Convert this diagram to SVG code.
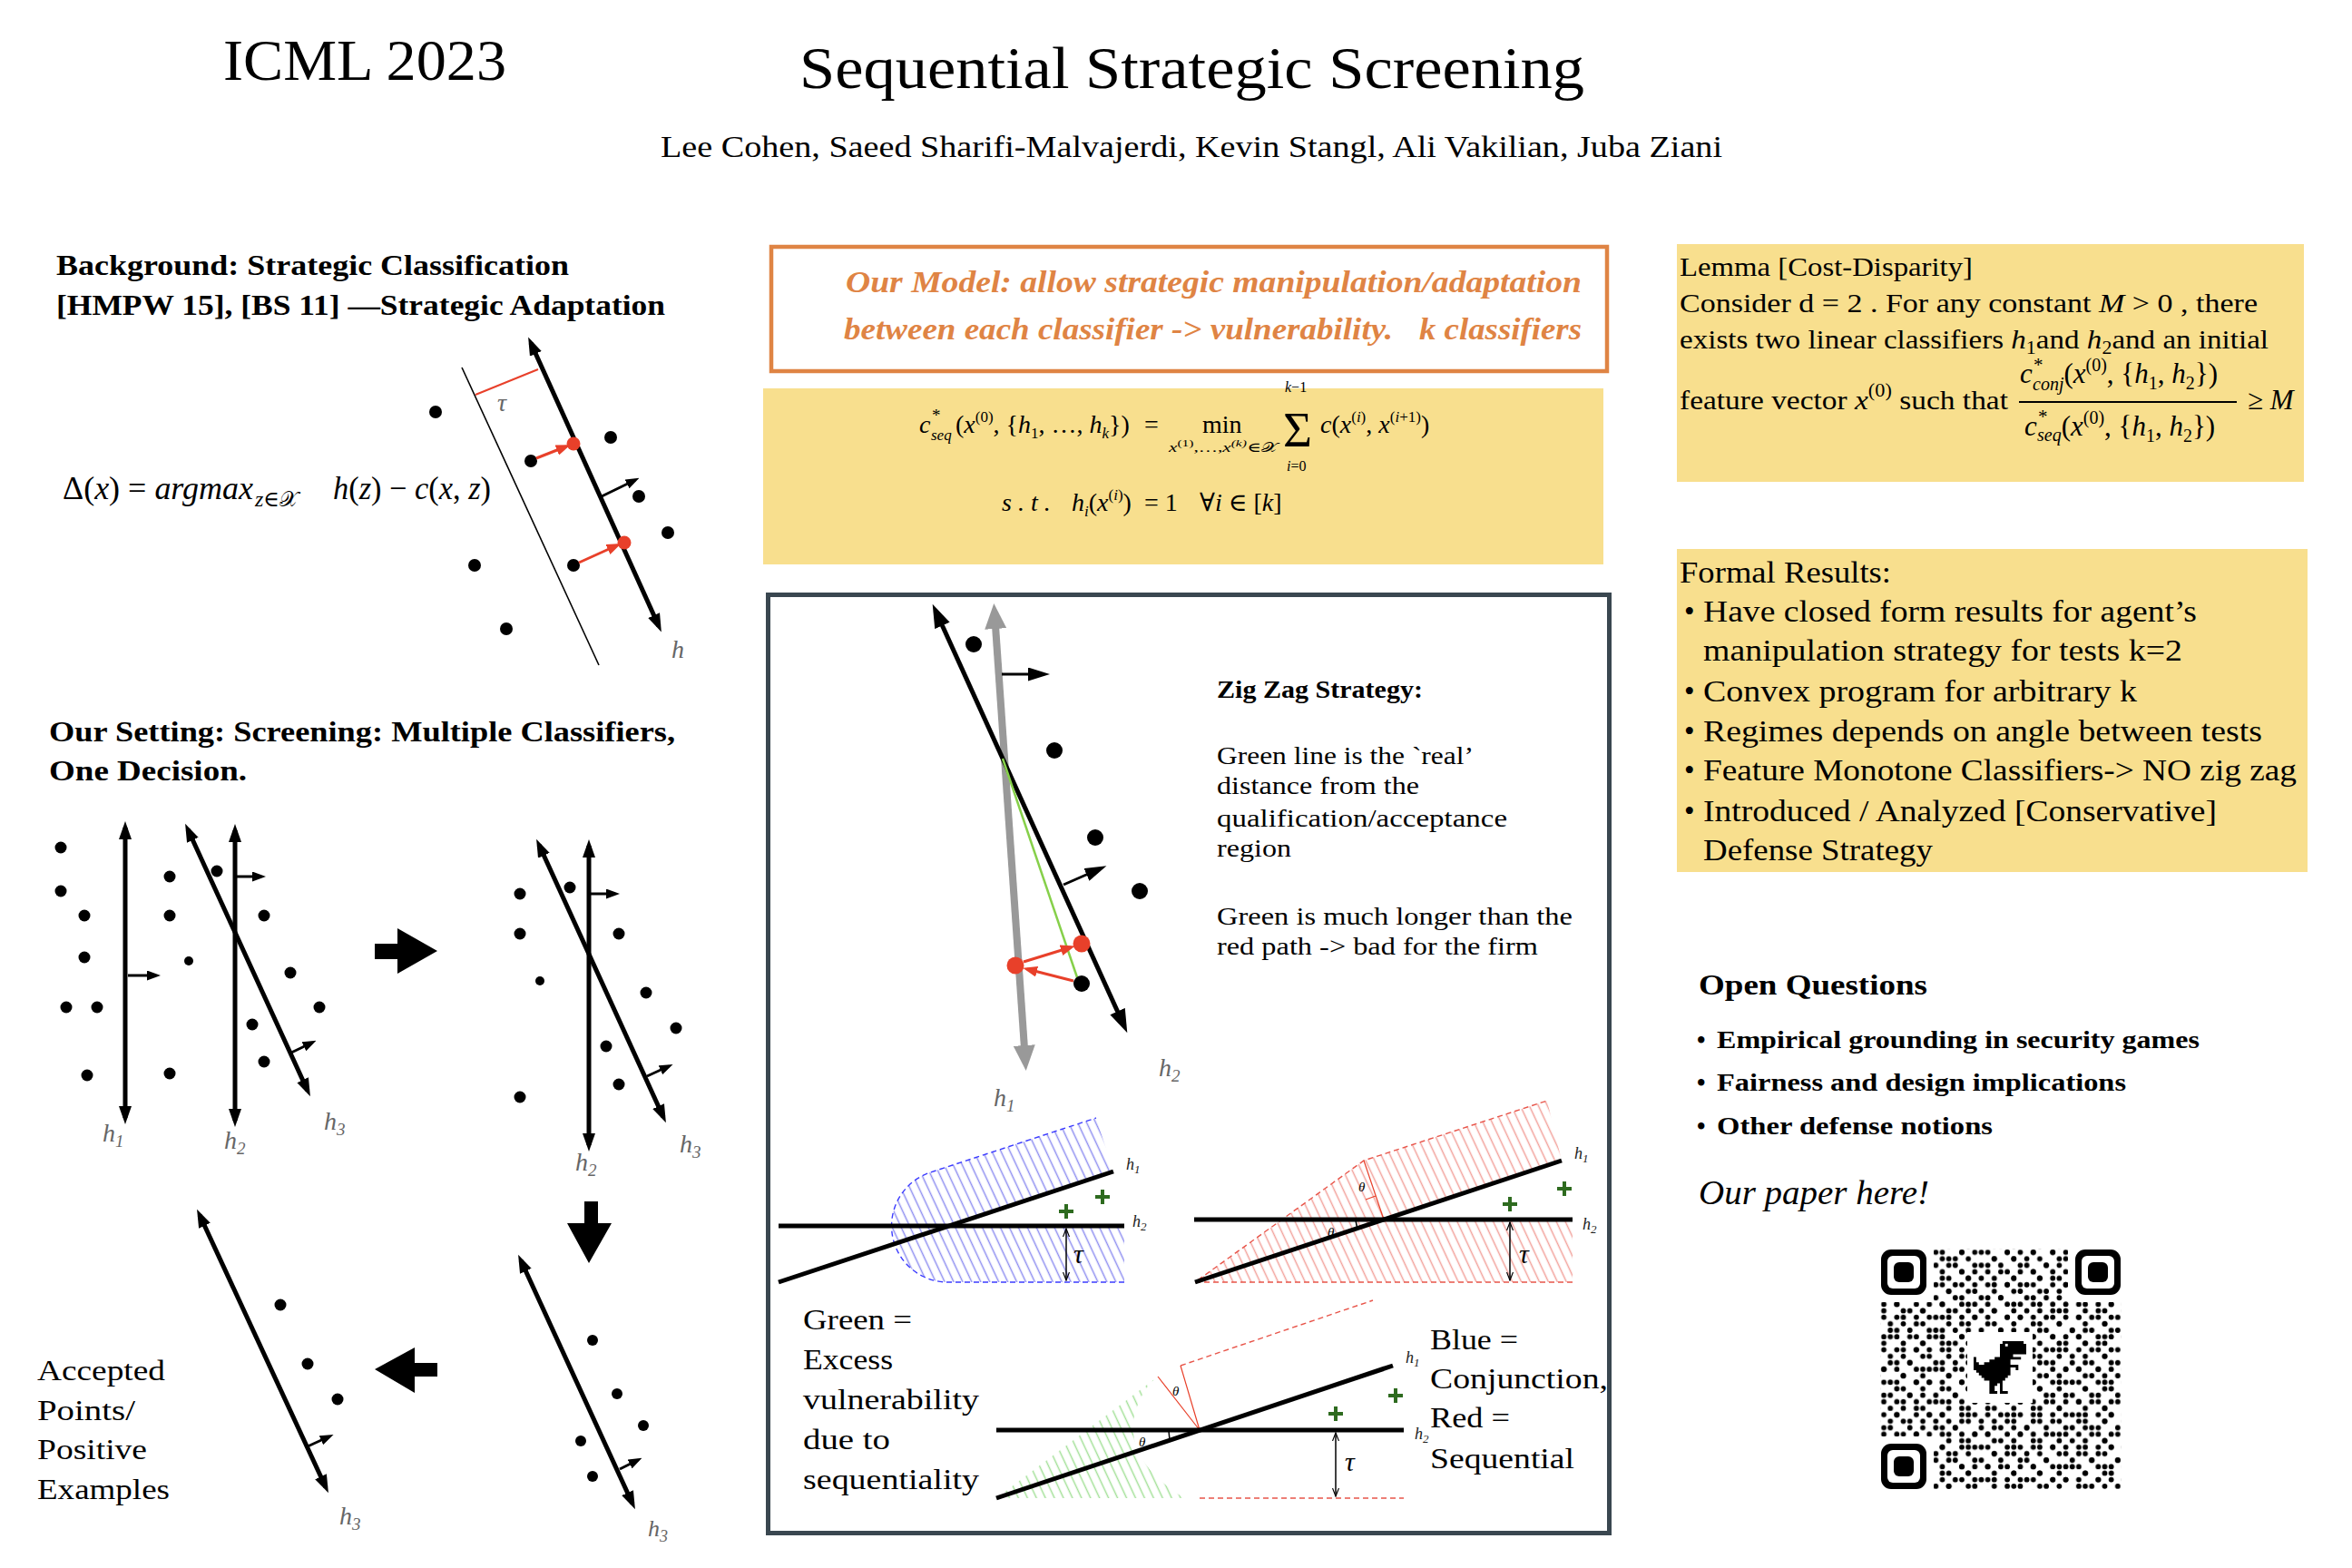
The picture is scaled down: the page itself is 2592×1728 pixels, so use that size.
<svg xmlns="http://www.w3.org/2000/svg" width="2592" height="1728" viewBox="0 0 2592 1728">
<style>
text{font-family:'Liberation Serif','DejaVu Serif',serif;fill:#000}
.b{font-weight:bold}
.i{font-style:italic}
.g{fill:#666;font-style:italic}
.o{fill:#DF8444;font-weight:bold;font-style:italic}
.sm{fill:#222;font-style:italic}
.h{stroke:#000;stroke-width:5;fill:none}
.nv{stroke:#000;stroke-width:3;fill:none}
.thin{stroke:#000;stroke-width:1.6;fill:none}
.rl{stroke:#E8402A;stroke-width:3;fill:none}
.rt{stroke:#E8402A;stroke-width:1.2;fill:none}
.bd{stroke:#3b3bff;stroke-width:1.4;stroke-dasharray:6 4;fill:none}
.rd{stroke:#E8554A;stroke-width:1.4;stroke-dasharray:6 4;fill:none}
.tau{stroke:#000;stroke-width:1.5;fill:none}
.yb{fill:#F8DF8E}
</style>
<defs>
<marker id="ah" markerUnits="userSpaceOnUse" markerWidth="20" markerHeight="14" refX="13" refY="7" orient="auto-start-reverse"><path d="M0,0L20,7L0,14Z" fill="#000"/></marker>
<marker id="ahz" markerUnits="userSpaceOnUse" markerWidth="26" markerHeight="18" refX="18" refY="9" orient="auto-start-reverse"><path d="M0,0L26,9L0,18Z" fill="#000"/></marker>
<marker id="ahg" markerUnits="userSpaceOnUse" markerWidth="28" markerHeight="24" refX="18" refY="12" orient="auto-start-reverse"><path d="M0,0L28,12L0,24Z" fill="#999"/></marker>
<marker id="ahn" markerUnits="userSpaceOnUse" markerWidth="15" markerHeight="11" refX="10" refY="5.5" orient="auto"><path d="M0,0L15,5.5L0,11Z" fill="#000"/></marker>
<marker id="ahn2" markerUnits="userSpaceOnUse" markerWidth="24" markerHeight="15" refX="17" refY="7.5" orient="auto"><path d="M0,0L24,7.5L0,15Z" fill="#000"/></marker>
<marker id="ahr" markerUnits="userSpaceOnUse" markerWidth="16" markerHeight="12" refX="11" refY="6" orient="auto"><path d="M0,0L16,6L0,12Z" fill="#E8402A"/></marker>
<marker id="aht" markerUnits="userSpaceOnUse" markerWidth="10" markerHeight="8" refX="9" refY="4" orient="auto-start-reverse"><path d="M0,0.5L9,4L0,7.5" fill="none" stroke="#000" stroke-width="1.2"/></marker>
<path id="plus" d="M-8,0H8M0,-8V8" stroke="#2E6B1F" stroke-width="4" fill="none"/>
<pattern id="hb" patternUnits="userSpaceOnUse" width="9" height="9" patternTransform="rotate(-25)"><path d="M4.5,-1V10" stroke="#8f8ff0" stroke-width="1.5"/></pattern>
<pattern id="hr" patternUnits="userSpaceOnUse" width="9" height="9" patternTransform="rotate(-25)"><path d="M4.5,-1V10" stroke="#f2a29b" stroke-width="1.5"/></pattern>
<pattern id="hg" patternUnits="userSpaceOnUse" width="9" height="9" patternTransform="rotate(-25)"><path d="M4.5,-1V10" stroke="#a3e098" stroke-width="1.5"/></pattern>
<pattern id="qa" patternUnits="userSpaceOnUse" x="2072.5" y="1376.5" width="50.12" height="35.8"><path d="M3.58 3.58h.01M17.9 3.58h.01M39.38 3.58h.01M25.06 10.74h.01M46.54 10.74h.01M10.74 17.9h.01M32.22 17.9h.01M3.58 25.06h.01M17.9 25.06h.01M39.38 25.06h.01M25.06 32.22h.01M46.54 32.22h.01" stroke="#000" stroke-width="5.8" stroke-linecap="round"/></pattern>
<pattern id="qb" patternUnits="userSpaceOnUse" x="2072.5" y="1376.5" width="78.76" height="93.08"><path d="M10.74 3.58h.01M32.22 3.58h.01M60.86 3.58h.01M3.58 10.74h.01M46.54 10.74h.01M68.02 10.74h.01M25.06 17.9h.01M39.38 17.9h.01M75.18 17.9h.01M10.74 25.06h.01M53.7 25.06h.01M17.9 32.22h.01M32.22 32.22h.01M68.02 32.22h.01M3.58 39.38h.01M46.54 39.38h.01M60.86 39.38h.01M25.06 46.54h.01M75.18 46.54h.01M10.74 53.7h.01M39.38 53.7h.01M53.7 53.7h.01M17.9 60.86h.01M68.02 60.86h.01M3.58 68.02h.01M32.22 68.02h.01M46.54 68.02h.01M25.06 75.18h.01M60.86 75.18h.01M75.18 75.18h.01M10.74 82.34h.01M39.38 82.34h.01M17.9 89.5h.01M53.7 89.5h.01M68.02 89.5h.01" stroke="#000" stroke-width="5.8" stroke-linecap="round"/></pattern>
<g id="finder"><rect width="50" height="50" rx="11" fill="#000"/><rect x="7" y="7" width="36" height="36" rx="6" fill="#fff"/><rect x="14" y="14" width="22" height="22" rx="6" fill="#000"/></g>
</defs>
<rect width="2592" height="1728" fill="#fff"/>

<g id="header">
<text x="246" y="88" font-size="64" textLength="312" lengthAdjust="spacingAndGlyphs">ICML 2023</text>
<text x="881" y="97" font-size="66" textLength="865" lengthAdjust="spacingAndGlyphs">Sequential Strategic Screening</text>
<text x="728" y="173" font-size="34" textLength="1170" lengthAdjust="spacingAndGlyphs">Lee Cohen, Saeed Sharifi-Malvajerdi,  Kevin Stangl, Ali Vakilian, Juba Ziani</text>
</g>

<g id="background">
<text x="62" y="303" font-size="32" class="b" textLength="565" lengthAdjust="spacingAndGlyphs">Background: Strategic Classification</text>
<text x="62" y="347" font-size="32" class="b" textLength="671" lengthAdjust="spacingAndGlyphs">[HMPW 15], [BS 11] —Strategic Adaptation</text>
<text x="69" y="550" font-size="36" textLength="210" lengthAdjust="spacingAndGlyphs">Δ(<tspan class="i">x</tspan>) = <tspan class="i">argmax</tspan></text>
<text x="281" y="558" font-size="24"><tspan class="i">z</tspan>∈𝒳</text>
<text x="367" y="550" font-size="36" textLength="174" lengthAdjust="spacingAndGlyphs"><tspan class="i">h</tspan>(<tspan class="i">z</tspan>) − <tspan class="i">c</tspan>(<tspan class="i">x</tspan>, <tspan class="i">z</tspan>)</text>
<line x1="509" y1="405" x2="660" y2="733" class="thin"/>
<line x1="524" y1="435" x2="593" y2="407" stroke="#E8402A" stroke-width="2"/>
<text x="548" y="453" font-size="28" class="g">τ</text>
<line x1="585" y1="378" x2="726" y2="690" class="h" marker-start="url(#ah)" marker-end="url(#ah)"/>
<line x1="663" y1="547" x2="700" y2="529" class="nv" marker-end="url(#ahn)"/>
<g fill="#000"><circle cx="480" cy="454" r="7"/><circle cx="673" cy="482" r="7"/><circle cx="585" cy="508" r="7"/><circle cx="704" cy="547" r="7"/><circle cx="736" cy="587" r="7"/><circle cx="523" cy="623" r="7"/><circle cx="632" cy="623" r="7"/><circle cx="558" cy="693" r="7"/></g>
<line x1="591" y1="505" x2="624" y2="492" class="rl" marker-end="url(#ahr)"/>
<line x1="638" y1="620" x2="680" y2="601" class="rl" marker-end="url(#ahr)"/>
<g fill="#E8402A"><circle cx="632" cy="489" r="7.5"/><circle cx="688" cy="598" r="7.5"/></g>
<text x="740" y="725" font-size="28" class="g">h</text>
</g>

<g id="setting">
<text x="54" y="817" font-size="32" class="b" textLength="690" lengthAdjust="spacingAndGlyphs">Our Setting: Screening: Multiple Classifiers,</text>
<text x="54" y="860" font-size="32" class="b" textLength="218" lengthAdjust="spacingAndGlyphs">One Decision.</text>
</g>

<g id="fig-h1h2h3">
<line x1="138" y1="912" x2="138" y2="1232" class="h" marker-start="url(#ah)" marker-end="url(#ah)"/>
<line x1="259" y1="915" x2="259" y2="1235" class="h" marker-start="url(#ah)" marker-end="url(#ah)"/>
<line x1="207" y1="914" x2="339" y2="1202" class="h" marker-start="url(#ah)" marker-end="url(#ah)"/>
<line x1="141" y1="1075" x2="172" y2="1075" class="nv" marker-end="url(#ahn)"/>
<line x1="261" y1="966" x2="288" y2="966" class="nv" marker-end="url(#ahn)"/>
<line x1="321" y1="1160" x2="344" y2="1149" class="nv" marker-end="url(#ahn)"/>
<g fill="#000"><circle cx="67" cy="934" r="6.5"/><circle cx="67" cy="982" r="6.5"/><circle cx="93" cy="1009" r="6.5"/><circle cx="93" cy="1055" r="6.5"/><circle cx="73" cy="1110" r="6.5"/><circle cx="107" cy="1110" r="6.5"/><circle cx="96" cy="1185" r="6.5"/><circle cx="187" cy="966" r="6.5"/><circle cx="187" cy="1009" r="6.5"/><circle cx="239" cy="960" r="6.5"/><circle cx="291" cy="1009" r="6.5"/><circle cx="320" cy="1072" r="6.5"/><circle cx="352" cy="1110" r="6.5"/><circle cx="278" cy="1129" r="6.5"/><circle cx="291" cy="1170" r="6.5"/><circle cx="187" cy="1183" r="6.5"/><circle cx="208" cy="1059" r="5"/></g>
<text x="113" y="1258" font-size="28" class="g">h<tspan font-size="19" dy="6">1</tspan></text>
<text x="247" y="1266" font-size="28" class="g">h<tspan font-size="19" dy="6">2</tspan></text>
<text x="357" y="1245" font-size="28" class="g">h<tspan font-size="19" dy="6">3</tspan></text>
</g>

<g id="fig-h2h3">
<line x1="649" y1="932" x2="649" y2="1262" class="h" marker-start="url(#ah)" marker-end="url(#ah)"/>
<line x1="594" y1="931" x2="731" y2="1231" class="h" marker-start="url(#ah)" marker-end="url(#ah)"/>
<line x1="651" y1="985" x2="678" y2="985" class="nv" marker-end="url(#ahn)"/>
<line x1="713" y1="1186" x2="737" y2="1175" class="nv" marker-end="url(#ahn)"/>
<g fill="#000"><circle cx="573" cy="985" r="6.5"/><circle cx="573" cy="1029" r="6.5"/><circle cx="628" cy="978" r="6.5"/><circle cx="682" cy="1029" r="6.5"/><circle cx="712" cy="1094" r="6.5"/><circle cx="745" cy="1133" r="6.5"/><circle cx="668" cy="1153" r="6.5"/><circle cx="682" cy="1195" r="6.5"/><circle cx="573" cy="1209" r="6.5"/><circle cx="595" cy="1081" r="5"/></g>
<text x="634" y="1290" font-size="28" class="g">h<tspan font-size="19" dy="6">2</tspan></text>
<text x="749" y="1270" font-size="28" class="g">h<tspan font-size="19" dy="6">3</tspan></text>
</g>

<g id="fig-h3-right">
<line x1="574" y1="1389" x2="697" y2="1657" class="h" stroke-width="4" marker-start="url(#ah)" marker-end="url(#ah)"/>
<line x1="683" y1="1619" x2="703" y2="1609" class="nv" stroke-width="2.5" marker-end="url(#ahn)"/>
<g fill="#000"><circle cx="653" cy="1477" r="6"/><circle cx="680" cy="1536" r="6"/><circle cx="709" cy="1571" r="6"/><circle cx="640" cy="1588" r="6"/><circle cx="653" cy="1627" r="6"/></g>
<text x="714" y="1693" font-size="26" class="g">h<tspan font-size="18" dy="6">3</tspan></text>
</g>

<g id="fig-accepted">
<line x1="220" y1="1339" x2="359" y2="1639" class="h" stroke-width="4" marker-start="url(#ah)" marker-end="url(#ah)"/>
<line x1="339" y1="1594" x2="363" y2="1583" class="nv" stroke-width="2.5" marker-end="url(#ahn)"/>
<g fill="#000"><circle cx="309" cy="1438" r="6.5"/><circle cx="339" cy="1503" r="6.5"/><circle cx="372" cy="1542" r="6.5"/></g>
<text x="374" y="1680" font-size="28" class="g">h<tspan font-size="19" dy="6">3</tspan></text>
<text x="41" y="1521" font-size="31" textLength="141" lengthAdjust="spacingAndGlyphs">Accepted</text>
<text x="41" y="1565" font-size="31" textLength="108" lengthAdjust="spacingAndGlyphs">Points/</text>
<text x="41" y="1608" font-size="31" textLength="121" lengthAdjust="spacingAndGlyphs">Positive</text>
<text x="41" y="1652" font-size="31" textLength="146" lengthAdjust="spacingAndGlyphs">Examples</text>
</g>

<g id="connectors">
<polygon points="413,1040 438,1040 438,1023 482,1048 438,1073 438,1057 413,1057" fill="#000"/>
<polygon points="644,1324 659,1324 659,1348 674,1348 649,1392 625,1348 644,1348" fill="#000"/>
<polygon points="482,1502 482,1517 457,1517 457,1535 413,1509 457,1485 457,1502" fill="#000"/>
</g>

<g id="model-box">
<rect x="850" y="272" width="921" height="137" fill="#fff" stroke="#DF8444" stroke-width="4.5"/>
<text x="932" y="322" font-size="34" class="o" textLength="811" lengthAdjust="spacingAndGlyphs">Our Model: allow strategic manipulation/adaptation</text>
<text x="930" y="374" font-size="34" class="o" textLength="605" lengthAdjust="spacingAndGlyphs">between each classifier -&gt; vulnerability.</text>
<text x="1564" y="374" font-size="34" class="o" textLength="179" lengthAdjust="spacingAndGlyphs">k classifiers</text>
</g>

<g id="cost-formula">
<rect x="841" y="428" width="926" height="194" class="yb"/>
<text y="477" font-size="28"><tspan x="1013" class="i">c</tspan><tspan x="1027" dy="-13" font-size="19">*</tspan><tspan x="1026" dy="21" font-size="17" class="i">seq</tspan><tspan x="1053" dy="-8">(</tspan><tspan class="i">x</tspan><tspan font-size="17" dy="-12">(0)</tspan><tspan dy="12">, {</tspan><tspan class="i">h</tspan><tspan font-size="17" dy="6">1</tspan><tspan dy="-6">, …, </tspan><tspan class="i">h</tspan><tspan font-size="17" dy="6" class="i">k</tspan><tspan dy="-6">})</tspan><tspan x="1261">=</tspan><tspan x="1325">min</tspan></text>
<text x="1288" y="498" font-size="15" textLength="120" lengthAdjust="spacingAndGlyphs"><tspan class="i">x</tspan><tspan dy="-6" font-size="11">(1)</tspan><tspan dy="6">,…,</tspan><tspan class="i">x</tspan><tspan dy="-6" font-size="11" class="i">(k)</tspan><tspan dy="6">∈𝒳</tspan></text>
<text x="1414" y="492" font-size="55">Σ</text>
<text x="1416" y="432" font-size="16"><tspan class="i">k</tspan>−1</text>
<text x="1418" y="519" font-size="16"><tspan class="i">i</tspan>=0</text>
<text y="477" font-size="28"><tspan x="1455" class="i">c</tspan>(<tspan class="i">x</tspan><tspan dy="-12" font-size="17">(<tspan class="i">i</tspan>)</tspan><tspan dy="12">, </tspan><tspan class="i">x</tspan><tspan dy="-12" font-size="17">(<tspan class="i">i</tspan>+1)</tspan><tspan dy="12">)</tspan></text>
<text y="563" font-size="28"><tspan x="1104" class="i">s . t .</tspan><tspan x="1181" class="i">h</tspan><tspan font-size="17" dy="6" class="i">i</tspan><tspan dy="-6">(</tspan><tspan class="i">x</tspan><tspan dy="-12" font-size="17">(<tspan class="i">i</tspan>)</tspan><tspan dy="12">)</tspan><tspan x="1261">= 1</tspan><tspan x="1322">∀<tspan class="i">i</tspan> ∈ [<tspan class="i">k</tspan>]</tspan></text>
</g>

<g id="zigzag-panel">
<rect x="846.5" y="655.5" width="927" height="1034" fill="none" stroke="#3A4750" stroke-width="5"/>
<line x1="1096" y1="675" x2="1130" y2="1170" stroke="#999" stroke-width="8" marker-start="url(#ahg)" marker-end="url(#ahg)"/>
<line x1="1031" y1="673" x2="1239" y2="1131" class="h" marker-start="url(#ahz)" marker-end="url(#ahz)"/>
<line x1="1105" y1="836" x2="1187" y2="1077" stroke="#86D04A" stroke-width="2.5"/>
<line x1="1104" y1="743" x2="1150" y2="743" class="nv" stroke-width="3.5" marker-end="url(#ahn2)"/>
<line x1="1172" y1="975" x2="1213" y2="957" class="nv" stroke-width="3.5" marker-end="url(#ahn2)"/>
<g fill="#000"><circle cx="1073" cy="710" r="9"/><circle cx="1162" cy="827" r="9"/><circle cx="1207" cy="923" r="9"/><circle cx="1256" cy="982" r="9"/><circle cx="1192" cy="1084" r="9"/></g>
<line x1="1183" y1="1081" x2="1132" y2="1068" class="rl" marker-end="url(#ahr)"/>
<line x1="1128" y1="1060" x2="1180" y2="1044" class="rl" marker-end="url(#ahr)"/>
<g fill="#E8402A"><circle cx="1119" cy="1064" r="9.5"/><circle cx="1192" cy="1040" r="9.5"/></g>
<text x="1095" y="1219" font-size="28" class="g">h<tspan font-size="19" dy="6">1</tspan></text>
<text x="1277" y="1186" font-size="28" class="g">h<tspan font-size="19" dy="6">2</tspan></text>
<text x="1341" y="769" font-size="27" class="b" textLength="227" lengthAdjust="spacingAndGlyphs">Zig Zag Strategy:</text>
<text x="1341" y="842" font-size="27" textLength="283" lengthAdjust="spacingAndGlyphs">Green line is the `real’</text>
<text x="1341" y="875" font-size="27" textLength="223" lengthAdjust="spacingAndGlyphs">distance from the</text>
<text x="1341" y="911" font-size="27" textLength="320" lengthAdjust="spacingAndGlyphs">qualification/acceptance</text>
<text x="1341" y="944" font-size="27" textLength="82" lengthAdjust="spacingAndGlyphs">region</text>
<text x="1341" y="1019" font-size="27" textLength="392" lengthAdjust="spacingAndGlyphs">Green is much longer than the</text>
<text x="1341" y="1052" font-size="27" textLength="354" lengthAdjust="spacingAndGlyphs">red path -&gt; bad for the firm</text>
</g>

<g id="conjunction-fig">
<path d="M1045,1351L1239,1351L1239,1413L1045,1413A62,62 0 0 1 1025.5,1292L1208,1232L1227,1291Z" fill="url(#hb)"/>
<path d="M1239,1413L1045,1413A62,62 0 0 1 1025.5,1292L1208,1232" class="bd"/>
<line x1="858" y1="1351" x2="1239" y2="1351" class="h"/>
<line x1="858" y1="1413" x2="1227" y2="1291" class="h"/>
<line x1="1175" y1="1354" x2="1175" y2="1411" class="tau" marker-start="url(#aht)" marker-end="url(#aht)"/>
<text x="1183" y="1392" font-size="30" class="i">τ</text>
<use href="#plus" x="1175" y="1335"/>
<use href="#plus" x="1215" y="1319"/>
<text x="1241" y="1289" font-size="18" class="sm">h<tspan font-size="13" dy="4">1</tspan></text>
<text x="1248" y="1352" font-size="18" class="sm">h<tspan font-size="13" dy="4">2</tspan></text>
</g>

<g id="sequential-fig">
<path d="M1317,1413L1503,1279L1705,1213L1721,1279L1525,1344L1733,1344L1733,1413Z" fill="url(#hr)"/>
<path d="M1733,1413L1317,1413L1503,1279L1705,1213" class="rd"/>
<line x1="1503" y1="1279" x2="1525" y2="1344" class="rt"/>
<path d="M1505,1322L1516,1318" class="rt"/>
<text x="1497" y="1313" font-size="15" class="i">θ</text>
<text x="1463" y="1363" font-size="15" class="i">θ</text>
<line x1="1494" y1="1345" x2="1496" y2="1355" stroke="#000" stroke-width="1.5"/>
<line x1="1316" y1="1344" x2="1733" y2="1344" class="h"/>
<line x1="1317" y1="1413" x2="1721" y2="1279" class="h"/>
<line x1="1664" y1="1347" x2="1664" y2="1411" class="tau" marker-start="url(#aht)" marker-end="url(#aht)"/>
<text x="1674" y="1392" font-size="30" class="i">τ</text>
<use href="#plus" x="1664" y="1327"/>
<use href="#plus" x="1724" y="1310"/>
<text x="1735" y="1277" font-size="18" class="sm">h<tspan font-size="13" dy="4">1</tspan></text>
<text x="1744" y="1355" font-size="18" class="sm">h<tspan font-size="13" dy="4">2</tspan></text>
</g>

<g id="excess-fig">
<path d="M1276,1517L1098,1651L1305,1651Q1240,1610 1250,1560Q1258,1530 1276,1517Z" fill="url(#hg)"/>
<path d="M1301,1505L1513,1433M1322,1651L1547,1651" class="rd"/>
<path d="M1276,1517L1322,1576M1301,1505L1322,1576" class="rt"/>
<text x="1292" y="1538" font-size="15" class="i">θ</text>
<text x="1255" y="1594" font-size="15" class="i">θ</text>
<line x1="1288" y1="1577" x2="1289" y2="1587" stroke="#000" stroke-width="1.5"/>
<line x1="1098" y1="1576" x2="1547" y2="1576" class="h"/>
<line x1="1098" y1="1651" x2="1535" y2="1505" class="h"/>
<line x1="1472" y1="1579" x2="1472" y2="1649" class="tau" marker-start="url(#aht)" marker-end="url(#aht)"/>
<text x="1482" y="1621" font-size="30" class="i">τ</text>
<use href="#plus" x="1472" y="1558"/>
<use href="#plus" x="1538" y="1538"/>
<text x="1549" y="1502" font-size="18" class="sm">h<tspan font-size="13" dy="4">1</tspan></text>
<text x="1559" y="1586" font-size="18" class="sm">h<tspan font-size="13" dy="4">2</tspan></text>
<text x="885" y="1465" font-size="32" textLength="120" lengthAdjust="spacingAndGlyphs">Green =</text>
<text x="885" y="1509" font-size="32" textLength="99" lengthAdjust="spacingAndGlyphs">Excess</text>
<text x="885" y="1553" font-size="32" textLength="194" lengthAdjust="spacingAndGlyphs">vulnerability</text>
<text x="885" y="1597" font-size="32" textLength="96" lengthAdjust="spacingAndGlyphs">due to</text>
<text x="885" y="1641" font-size="32" textLength="194" lengthAdjust="spacingAndGlyphs">sequentiality</text>
<text x="1576" y="1487" font-size="32" textLength="97" lengthAdjust="spacingAndGlyphs">Blue =</text>
<text x="1576" y="1530" font-size="32" textLength="196" lengthAdjust="spacingAndGlyphs">Conjunction,</text>
<text x="1576" y="1573" font-size="32" textLength="88" lengthAdjust="spacingAndGlyphs">Red =</text>
<text x="1576" y="1618" font-size="32" textLength="159" lengthAdjust="spacingAndGlyphs">Sequential</text>
</g>

<g id="lemma">
<rect x="1848" y="269" width="691" height="262" class="yb"/>
<text x="1851" y="304" font-size="30" textLength="323" lengthAdjust="spacingAndGlyphs">Lemma [Cost-Disparity]</text>
<text x="1851" y="344" font-size="30" textLength="637" lengthAdjust="spacingAndGlyphs">Consider  d = 2 . For any constant  <tspan class="i">M</tspan> &gt; 0 , there</text>
<text x="1851" y="384" font-size="30" textLength="649" lengthAdjust="spacingAndGlyphs">exists two linear classifiers <tspan class="i">h</tspan><tspan font-size="20" dy="6">1</tspan><tspan dy="-6">and </tspan><tspan class="i">h</tspan><tspan font-size="20" dy="6">2</tspan><tspan dy="-6">and an initial</tspan></text>
<text x="1851" y="451" font-size="30" textLength="362" lengthAdjust="spacingAndGlyphs">feature vector <tspan class="i">x</tspan><tspan font-size="20" dy="-14">(0)</tspan><tspan dy="14"> such that</tspan></text>
<text y="422" font-size="31"><tspan x="2226" class="i">c</tspan><tspan x="2241" dy="-13" font-size="21">*</tspan><tspan x="2240" dy="21" font-size="20" class="i">conj</tspan><tspan dy="-8">(</tspan><tspan class="i">x</tspan><tspan font-size="20" dy="-13">(0)</tspan><tspan dy="13">, {</tspan><tspan class="i">h</tspan><tspan font-size="20" dy="7">1</tspan><tspan dy="-7">, </tspan><tspan class="i">h</tspan><tspan font-size="20" dy="7">2</tspan><tspan dy="-7">})</tspan></text>
<line x1="2225" y1="443" x2="2465" y2="443" stroke="#000" stroke-width="2"/>
<text y="480" font-size="31"><tspan x="2231" class="i">c</tspan><tspan x="2246" dy="-14" font-size="21">*</tspan><tspan x="2245" dy="20" font-size="20" class="i">seq</tspan><tspan dy="-6">(</tspan><tspan class="i">x</tspan><tspan font-size="20" dy="-13">(0)</tspan><tspan dy="13">, {</tspan><tspan class="i">h</tspan><tspan font-size="20" dy="7">1</tspan><tspan dy="-7">, </tspan><tspan class="i">h</tspan><tspan font-size="20" dy="7">2</tspan><tspan dy="-7">})</tspan></text>
<text x="2477" y="451" font-size="31">≥ <tspan class="i">M</tspan></text>
</g>

<g id="formal-results">
<rect x="1848" y="605" width="695" height="356" class="yb"/>
<text x="1851" y="642" font-size="33" textLength="233" lengthAdjust="spacingAndGlyphs">Formal Results:</text>
<g font-size="33">
<text x="1856" y="685">•</text>
<text x="1877" y="685" font-size="33" textLength="544" lengthAdjust="spacingAndGlyphs">Have closed form results for agent’s</text>
<text x="1877" y="728" font-size="33" textLength="528" lengthAdjust="spacingAndGlyphs">manipulation strategy for tests k=2</text>
<text x="1856" y="773">•</text>
<text x="1877" y="773" font-size="33" textLength="478" lengthAdjust="spacingAndGlyphs">Convex program for arbitrary k</text>
<text x="1856" y="817">•</text>
<text x="1877" y="817" font-size="33" textLength="616" lengthAdjust="spacingAndGlyphs">Regimes depends on angle between tests</text>
<text x="1856" y="860">•</text>
<text x="1877" y="860" font-size="33" textLength="654" lengthAdjust="spacingAndGlyphs">Feature Monotone Classifiers-&gt; NO zig zag</text>
<text x="1856" y="905">•</text>
<text x="1877" y="905" font-size="33" textLength="566" lengthAdjust="spacingAndGlyphs">Introduced / Analyzed [Conservative]</text>
<text x="1877" y="948" font-size="33" textLength="253" lengthAdjust="spacingAndGlyphs">Defense Strategy</text>
</g>
</g>

<g id="open-questions">
<text x="1872" y="1096" font-size="31" class="b" textLength="252" lengthAdjust="spacingAndGlyphs">Open Questions</text>
<text x="1870" y="1155" font-size="27" class="b">•</text>
<text x="1892" y="1155" font-size="27" class="b" textLength="532" lengthAdjust="spacingAndGlyphs">Empirical grounding in security games</text>
<text x="1870" y="1202" font-size="27" class="b">•</text>
<text x="1892" y="1202" font-size="27" class="b" textLength="451" lengthAdjust="spacingAndGlyphs">Fairness and design implications</text>
<text x="1870" y="1250" font-size="27" class="b">•</text>
<text x="1892" y="1250" font-size="27" class="b" textLength="304" lengthAdjust="spacingAndGlyphs">Other defense notions</text>
<text x="1872" y="1327" font-size="38" class="i" textLength="254" lengthAdjust="spacingAndGlyphs">Our paper here!</text>
</g>

<g id="qr">
<rect x="2072.5" y="1376.5" width="264.9" height="264.9" fill="url(#qa)"/>
<rect x="2072.5" y="1376.5" width="264.9" height="264.9" fill="url(#qb)"/>
<rect x="2071" y="1375" width="60" height="60" fill="#fff"/>
<rect x="2279" y="1375" width="60" height="60" fill="#fff"/>
<rect x="2071" y="1583" width="60" height="60" fill="#fff"/>
<rect x="2168" y="1468" width="72" height="78" fill="#fff"/>
<use href="#finder" x="2073" y="1377"/>
<use href="#finder" x="2287" y="1377"/>
<use href="#finder" x="2073" y="1591"/>
<g transform="translate(2175,1478) scale(2.9)"><path d="M11,0H19V1H20V5H15V6H18V7H14V9H17V11H16V10H14V13H13V14H12V15H11V19H13V20H10V16H9V17H8V19H9V20H6V15H4V14H3V13H2V12H1V11H0V6H1V8H2V9H4V8H6V7H8V6H10V1H11Z" fill="#000"/><rect x="12" y="1" width="1" height="1" fill="#fff"/></g>
</g>
</svg>
